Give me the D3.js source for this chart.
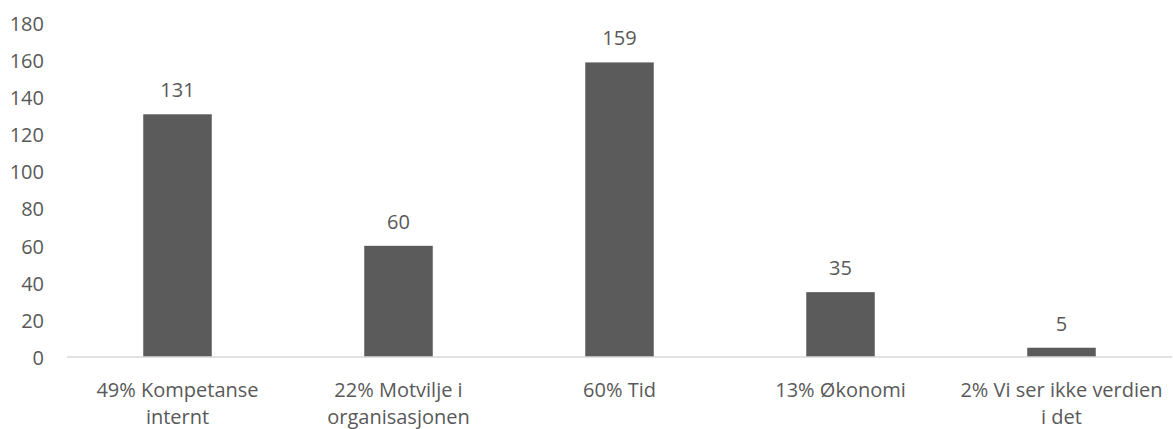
<!DOCTYPE html>
<html>
<head>
<meta charset="utf-8">
<script src="https://cdn.jsdelivr.net/npm/d3@7"></script>
<style>
  html, body { margin: 0; padding: 0; background: #fff; }
  svg { display: block; }
  text { font-family: "Open Sans", "Noto Sans", sans-serif; fill: #595959; }
</style>
</head>
<body>
<svg id="chart" width="1173" height="429"></svg>
<script>
// Responses per reason (count), with the share shown in the label
const categories = [
  ["49% Kompetanse", "internt"],
  ["22% Motvilje i", "organisasjonen"],
  ["60% Tid"],
  ["13% Økonomi"],
  ["2% Vi ser ikke verdien", "i det"]
];
const values = [131, 60, 159, 35, 5];
const yTicks = [0, 20, 40, 60, 80, 100, 120, 140, 160, 180];

const svg = d3.select("#chart");
const plotLeft = 67, plotRight = 1172, plotTop = 23.5, plotBottom = 357;
const fontSize = 20;

const x = d3.scaleBand()
  .domain(d3.range(categories.length))
  .range([plotLeft, plotRight])
  .paddingInner(0.69)
  .paddingOuter(0.345);

const y = d3.scaleLinear().domain([0, 180]).range([plotBottom, plotTop]);

// Y axis labels (no axis line, no gridlines)
const yAxis = d3.axisLeft(y).tickValues(yTicks).tickSize(0).tickPadding(0);
const gy = svg.append("g").attr("transform", `translate(${plotLeft - 23},0)`).call(yAxis);
gy.select(".domain").remove();
gy.attr("font-family", null).attr("font-size", null);
gy.selectAll("text")
  .attr("font-size", fontSize)
  .attr("fill", "#595959")
  .attr("dy", "0.36em");

// Bars
svg.append("g").selectAll("rect")
  .data(values)
  .join("rect")
  .attr("x", (d, i) => x(i))
  .attr("width", x.bandwidth())
  .attr("y", d => y(d))
  .attr("height", d => y(0) - y(d))
  .attr("fill", "#5b5b5b");

// Baseline
svg.append("line")
  .attr("x1", plotLeft).attr("x2", plotRight)
  .attr("y1", y(0)).attr("y2", y(0))
  .attr("stroke", "#d9d9d9").attr("stroke-width", 1.5);

// Value labels
svg.append("g").selectAll("text")
  .data(values)
  .join("text")
  .attr("x", (d, i) => x(i) + x.bandwidth() / 2)
  .attr("y", d => y(d) - 17)
  .attr("text-anchor", "middle")
  .attr("font-size", fontSize)
  .text(d => d);

// Category labels (wrapped)
const cat = svg.append("g").selectAll("text")
  .data(categories)
  .join("text")
  .attr("x", (d, i) => x(i) + x.bandwidth() / 2)
  .attr("y", 397)
  .attr("text-anchor", "middle")
  .attr("font-size", fontSize);
cat.selectAll("tspan")
  .data(d => d)
  .join("tspan")
  .attr("x", function () { return d3.select(this.parentNode).attr("x"); })
  .attr("dy", (d, i) => i === 0 ? 0 : 27)
  .text(d => d);
</script>
</body>
</html>
